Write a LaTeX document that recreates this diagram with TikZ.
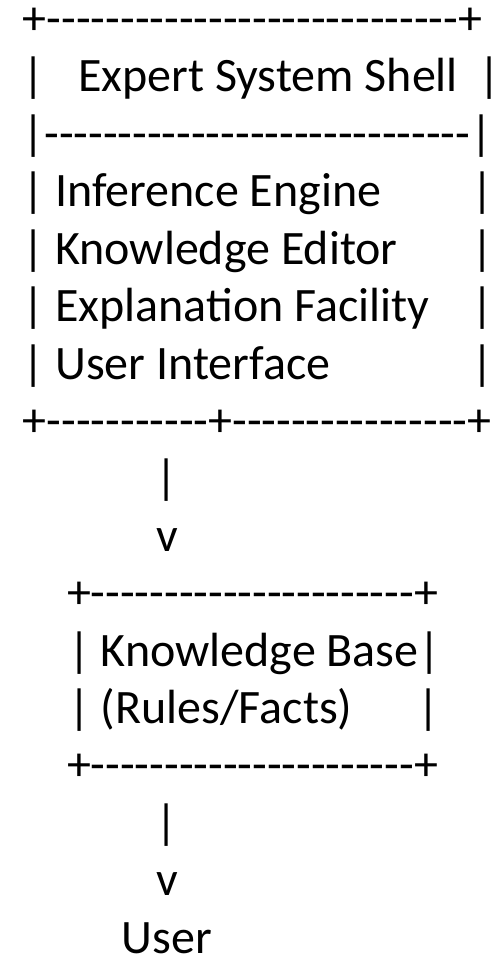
\documentclass[tikz,border=0pt]{standalone}
\usepackage{fontspec}
\newfontfamily\asciifont{Carlito}[Ligatures=TeXOff]
% a run of n hyphens
\ExplSyntaxOn
\NewDocumentCommand\dashrun{m}{\prg_replicate:nn{#1}{-}}
\ExplSyntaxOff
% a glyph set in a zero-width box, centred on its position
\newcommand\centredglyph[1]{\makebox[0pt]{#1}}
\tikzset{
  txt/.style={anchor=base west, inner sep=0pt, outer sep=0pt,
    font=\asciifont\fontsize{48}{57}\selectfont},
  mark glyph/.style={anchor=base, inner sep=0pt, outer sep=0pt,
    font=\asciifont\fontsize{48}{57}\selectfont}
}
\begin{document}
\begin{tikzpicture}[x=1pt,y=-1pt]
\useasboundingbox (0,0) rectangle (491,958);
% shell box
\node[txt] (shelltop)   at (23,34.6)    {+\dashrun{28}+};
\node[mark glyph] (shellbarl) at (33.3,92) {\centredglyph{|}};
\node[txt] (shelltitle) at (78.2,92)    {Expert System Shell};
\node[mark glyph] (shellbarr) at (490,92) {\centredglyph{|}};
\node[txt] (shellrule)  at (22.3,149.4) {|\dashrun{29}|};
\node[txt] (infer)      at (22.3,206.8) {| Inference Engine};
\node[mark glyph] (inferr)   at (483,206.8) {\centredglyph{|}};
\node[txt] (editor)     at (22.3,264.2) {| Knowledge Editor};
\node[mark glyph] (editorr)  at (483,264.2) {\centredglyph{|}};
\node[txt] (explain)    at (22.3,321.6) {| Explanation Facility};
\node[mark glyph] (explainr) at (483,321.6) {\centredglyph{|}};
\node[txt] (ui)         at (22.3,379)   {| User Interface};
\node[mark glyph] (uir)      at (483,379)   {\centredglyph{|}};
\node[txt] (shellbot)   at (23,436.4)   {+\dashrun{11}+\dashrun{16}+};
% first arrow
\node[mark glyph] (stemA) at (167,493.8) {\centredglyph{|}};
\node[mark glyph] (headA) at (167,551.2) {\centredglyph{v}};
% knowledge base box
\node[txt] (kbtop)      at (67,608.6)   {+\dashrun{22}+};
\node[txt] (kbname)     at (68,666)     {| Knowledge Base|};
\node[txt] (kbsub)      at (68,723.4)   {| (Rules/Facts)};
\node[mark glyph] (kbsubr) at (429,723.4) {\centredglyph{|}};
\node[txt] (kbbot)      at (67,780.8)   {+\dashrun{22}+};
% second arrow
\node[mark glyph] (stemB) at (167,838.2) {\centredglyph{|}};
\node[mark glyph] (headB) at (167,895.6) {\centredglyph{v}};
\node[txt] (user)       at (121.6,953)  {User};
\end{tikzpicture}
\end{document}
